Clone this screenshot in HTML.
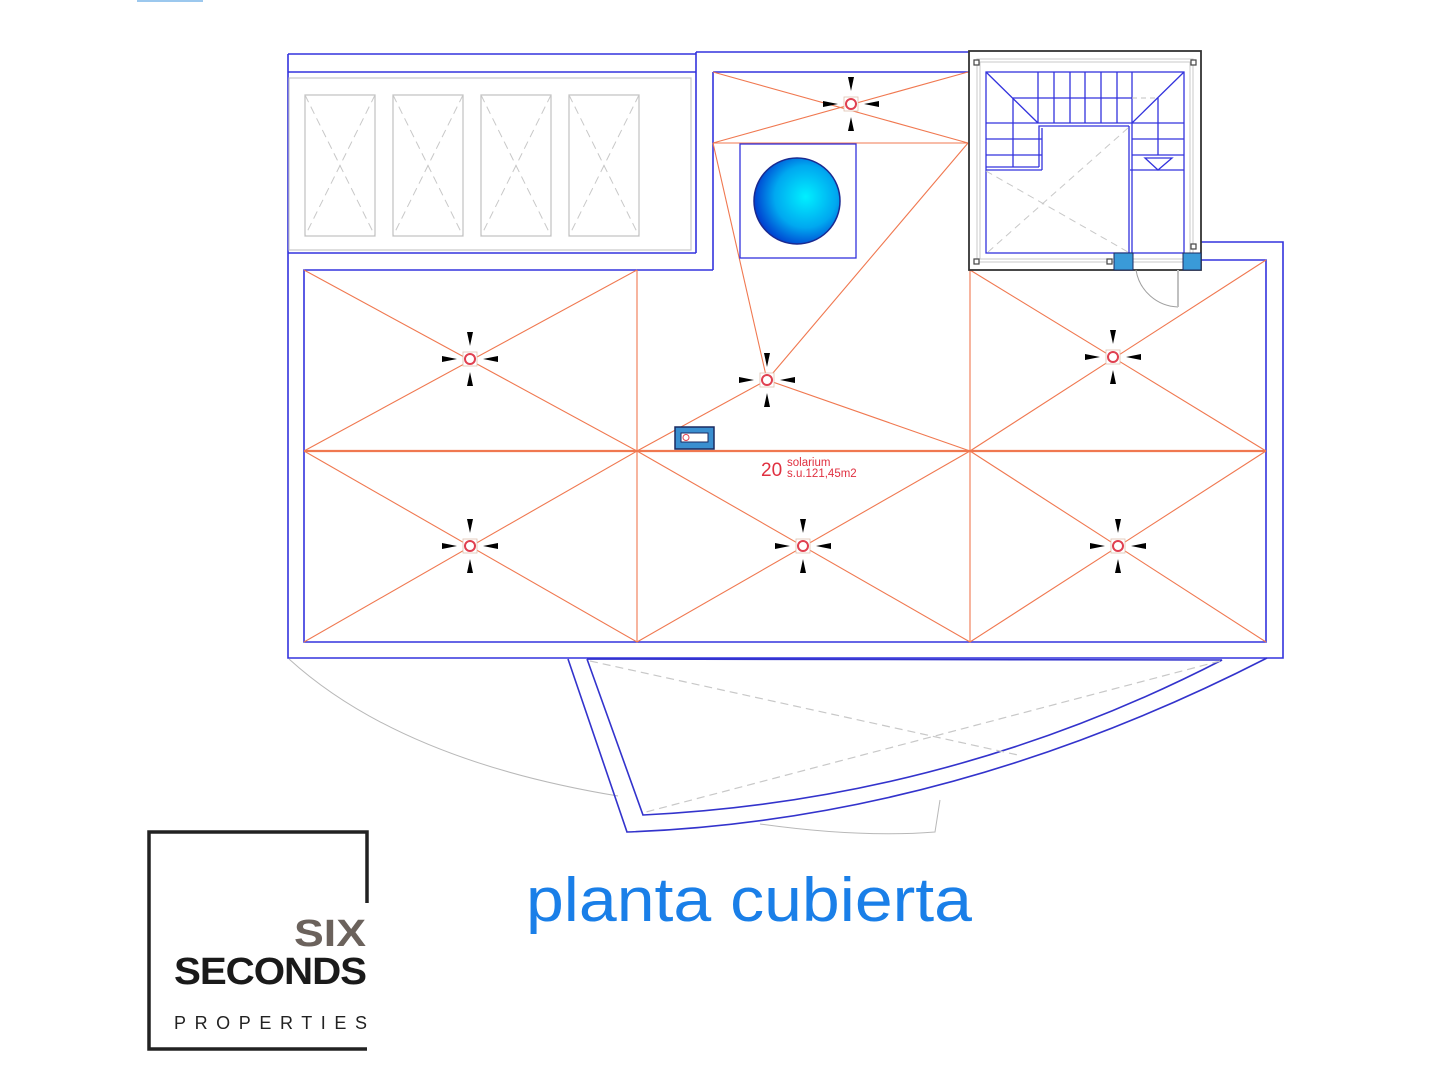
<!DOCTYPE html>
<html><head><meta charset="utf-8"><style>
html,body{margin:0;padding:0;background:#fff;}
svg{display:block;}
</style></head><body>
<svg width="1440" height="1080" viewBox="0 0 1440 1080" xmlns="http://www.w3.org/2000/svg" font-family="Liberation Sans, Arial, sans-serif">
<rect width="1440" height="1080" fill="#fff"/>
<rect x="137" y="0" width="66" height="2" fill="#9cc8ee"/>

<g fill="none" stroke="#3333dd" stroke-width="1.6">
<line x1="288" y1="54" x2="696" y2="54"/>
<line x1="288" y1="72" x2="696" y2="72"/>
<line x1="696" y1="52" x2="696" y2="253"/>
<line x1="288" y1="253" x2="696" y2="253"/>
<line x1="696" y1="52" x2="969" y2="52"/>
<line x1="713" y1="72" x2="969" y2="72"/>
<line x1="713" y1="72" x2="713" y2="270"/>
<polyline points="288,54 288,658 1283,658 1283,242 1201,242"/>
<polyline points="713,270 304,270 304,642 1266,642 1266,260 1201,260"/>
</g>
<rect x="289" y="78" width="402" height="172" fill="none" stroke="#c8c8c8" stroke-width="1.2"/>
<g fill="none" stroke="#c0c0c0" stroke-width="1.2">
<rect x="305" y="95" width="70" height="141"/>
<rect x="393" y="95" width="70" height="141"/>
<rect x="481" y="95" width="70" height="141"/>
<rect x="569" y="95" width="70" height="141"/>
</g>
<g stroke="#c8c8c8" stroke-width="1" stroke-dasharray="8,5">
<line x1="305" y1="95" x2="375" y2="236"/><line x1="375" y1="95" x2="305" y2="236"/>
<line x1="393" y1="95" x2="463" y2="236"/><line x1="463" y1="95" x2="393" y2="236"/>
<line x1="481" y1="95" x2="551" y2="236"/><line x1="551" y1="95" x2="481" y2="236"/>
<line x1="569" y1="95" x2="639" y2="236"/><line x1="639" y1="95" x2="569" y2="236"/>
</g>

<g stroke="#f07850" stroke-width="1.1" fill="none">
<line x1="637" y1="270" x2="637" y2="642"/>
<line x1="970" y1="270" x2="970" y2="642"/>
<line x1="304" y1="270" x2="637" y2="451"/><line x1="637" y1="270" x2="304" y2="451"/>
<line x1="970" y1="270" x2="1266" y2="451"/><line x1="1266" y1="260" x2="970" y2="451"/>
<line x1="304" y1="451" x2="637" y2="642"/><line x1="637" y1="451" x2="304" y2="642"/>
<line x1="637" y1="451" x2="970" y2="642"/><line x1="970" y1="451" x2="637" y2="642"/>
<line x1="970" y1="451" x2="1266" y2="642"/><line x1="1266" y1="451" x2="970" y2="642"/>
<line x1="713" y1="143" x2="767" y2="380"/><line x1="968" y1="143" x2="767" y2="380"/>
<line x1="637" y1="451" x2="767" y2="380"/><line x1="970" y1="451" x2="767" y2="380"/>
<line x1="713" y1="143" x2="968" y2="143"/>
<line x1="713" y1="72" x2="968" y2="143"/><line x1="968" y1="72" x2="713" y2="143"/>
</g>
<line x1="304" y1="451" x2="1266" y2="451" stroke="#f07850" stroke-width="2.2"/>

<rect x="740" y="144" width="116" height="114" fill="#fff" stroke="#3333dd" stroke-width="1.3"/>
<defs><radialGradient id="pg" cx="0.6" cy="0.45" r="0.6"><stop offset="0" stop-color="#00f0ff"/><stop offset="0.6" stop-color="#00a8f0"/><stop offset="1" stop-color="#0040d0"/></radialGradient></defs>
<circle cx="797" cy="201" r="43" fill="url(#pg)" stroke="#1a2a90" stroke-width="1.5"/>

<defs>
<g id="dr">
<rect x="-7" y="-7" width="14" height="14" fill="#fff" stroke="#e0c0b0" stroke-width="0.8"/>
<circle r="5" fill="#fff" stroke="#e04050" stroke-width="2"/>
<polygon points="-3,-27 3,-27 0,-13" fill="#000"/>
<polygon points="-3,27 3,27 0,13" fill="#000"/>
<polygon points="-28,-3 -28,3 -13,0" fill="#000"/>
<polygon points="28,-3 28,3 13,0" fill="#000"/>
</g>
</defs>
<use href="#dr" x="851" y="104"/>
<use href="#dr" x="470" y="359"/>
<use href="#dr" x="767" y="380"/>
<use href="#dr" x="1113" y="357"/>
<use href="#dr" x="470" y="546"/>
<use href="#dr" x="803" y="546"/>
<use href="#dr" x="1118" y="546"/>

<rect x="675" y="427" width="39" height="22" fill="#3a8fd0" stroke="#1a2a60" stroke-width="1.5"/>
<rect x="681" y="433" width="27" height="9" fill="#fff" stroke="#1a2a60" stroke-width="1"/>
<circle cx="686" cy="437.5" r="3" fill="#fff" stroke="#e04050" stroke-width="1"/>
<text x="761" y="476" fill="#e03040" font-size="19">20</text>
<text x="787" y="466" fill="#e03040" font-size="11.5">solarium</text>
<text x="787" y="477" fill="#e03040" font-size="11.5">s.u.121,45m2</text>

<rect x="969" y="51" width="232" height="219" fill="#fff" stroke="#333" stroke-width="1.8"/>
<rect x="977" y="59" width="216" height="203" fill="none" stroke="#c8c8c8" stroke-width="1"/>
<rect x="980" y="62" width="210" height="197" fill="none" stroke="#c8c8c8" stroke-width="1"/>
<g fill="#fff" stroke="#444" stroke-width="1.2">
<rect x="974" y="60" width="5" height="5"/><rect x="1191" y="60" width="5" height="5"/>
<rect x="974" y="259" width="5" height="5"/><rect x="1107" y="259" width="5" height="5"/>
<rect x="1191" y="244" width="5" height="5"/>
</g>
<g stroke="#3333dd" stroke-width="1.3" fill="none">
<rect x="986" y="72" width="198" height="181"/>
<line x1="1038" y1="72" x2="1038" y2="123"/><line x1="1054" y1="72" x2="1054" y2="123"/>
<line x1="1070" y1="72" x2="1070" y2="123"/><line x1="1085" y1="72" x2="1085" y2="123"/>
<line x1="1101" y1="72" x2="1101" y2="123"/><line x1="1117" y1="72" x2="1117" y2="123"/>
<line x1="1132" y1="72" x2="1132" y2="253"/><line x1="1129" y1="126" x2="1129" y2="253"/>
<line x1="986" y1="72" x2="1038" y2="123"/><line x1="1184" y1="72" x2="1132" y2="123"/>
<line x1="986" y1="123" x2="1184" y2="123"/>
<line x1="986" y1="139" x2="1042" y2="139"/><line x1="986" y1="155" x2="1042" y2="155"/>
<line x1="986" y1="170" x2="1042" y2="170"/><line x1="986" y1="167" x2="1039" y2="167"/>
<polyline points="1039,167 1039,126 1129,126"/>
<line x1="1042" y1="170" x2="1042" y2="128"/>
<line x1="1013" y1="98" x2="1013" y2="167"/>
<line x1="1013" y1="98" x2="1132" y2="98"/>
<line x1="1132" y1="139" x2="1184" y2="139"/><line x1="1132" y1="155" x2="1184" y2="155"/>
<line x1="1130" y1="170" x2="1184" y2="170"/>
<line x1="1158" y1="98" x2="1158" y2="155"/>
<polygon points="1145,158 1172,158 1158,170"/>
</g>
<line x1="1132" y1="98" x2="1158" y2="98" stroke="#c0c0c0" stroke-dasharray="5,4"/>
<g stroke="#c8c8c8" stroke-width="1" stroke-dasharray="7,5">
<line x1="986" y1="171" x2="1128" y2="252"/><line x1="1128" y1="128" x2="988" y2="252"/>
</g>
<rect x="1114" y="253" width="19" height="17" fill="#3a9ad8" stroke="#1a2a60"/>
<rect x="1183" y="253" width="18" height="17" fill="#3a9ad8" stroke="#1a2a60"/>
<path d="M1136,270 A44,44 0 0 0 1178,307" fill="none" stroke="#a0a0a0"/>
<line x1="1178" y1="270" x2="1178" y2="307" stroke="#c0c0c0" stroke-width="2"/>

<path d="M289,659 Q400,760 618,796" fill="none" stroke="#b8b8b8" stroke-width="1"/>
<path d="M760,824 Q860,838 935,832 L940,800" fill="none" stroke="#b8b8b8" stroke-width="1"/>
<g fill="none" stroke="#3333cc" stroke-width="1.6">
<path d="M568,659 L627,832 Q950,820 1267,658"/>
<path d="M587,659 L643,815 Q950,800 1222,660 L587,659"/>
</g>
<g stroke="#c8c8c8" stroke-width="1.2" stroke-dasharray="8,5">
<line x1="590" y1="661" x2="1018" y2="755"/>
<line x1="1220" y1="661" x2="646" y2="812"/>
</g>

<text x="526" y="921" fill="#1a7fe8" font-size="62" textLength="446" lengthAdjust="spacingAndGlyphs">planta cubierta</text>

<polyline points="367,903 367,832 149,832 149,1049 367,1049" fill="none" stroke="#222" stroke-width="3.5"/>
<text x="366" y="946" text-anchor="end" fill="#6b625c" font-size="38" font-weight="bold" textLength="72" lengthAdjust="spacingAndGlyphs">SIX</text>
<text x="366" y="984" text-anchor="end" fill="#1a1a1a" font-size="38" font-weight="bold" textLength="192" lengthAdjust="spacingAndGlyphs" letter-spacing="-1">SECONDS</text>
<text x="174" y="1029" fill="#222" font-size="18" textLength="193" lengthAdjust="spacing">PROPERTIES</text>
</svg>
</body></html>
